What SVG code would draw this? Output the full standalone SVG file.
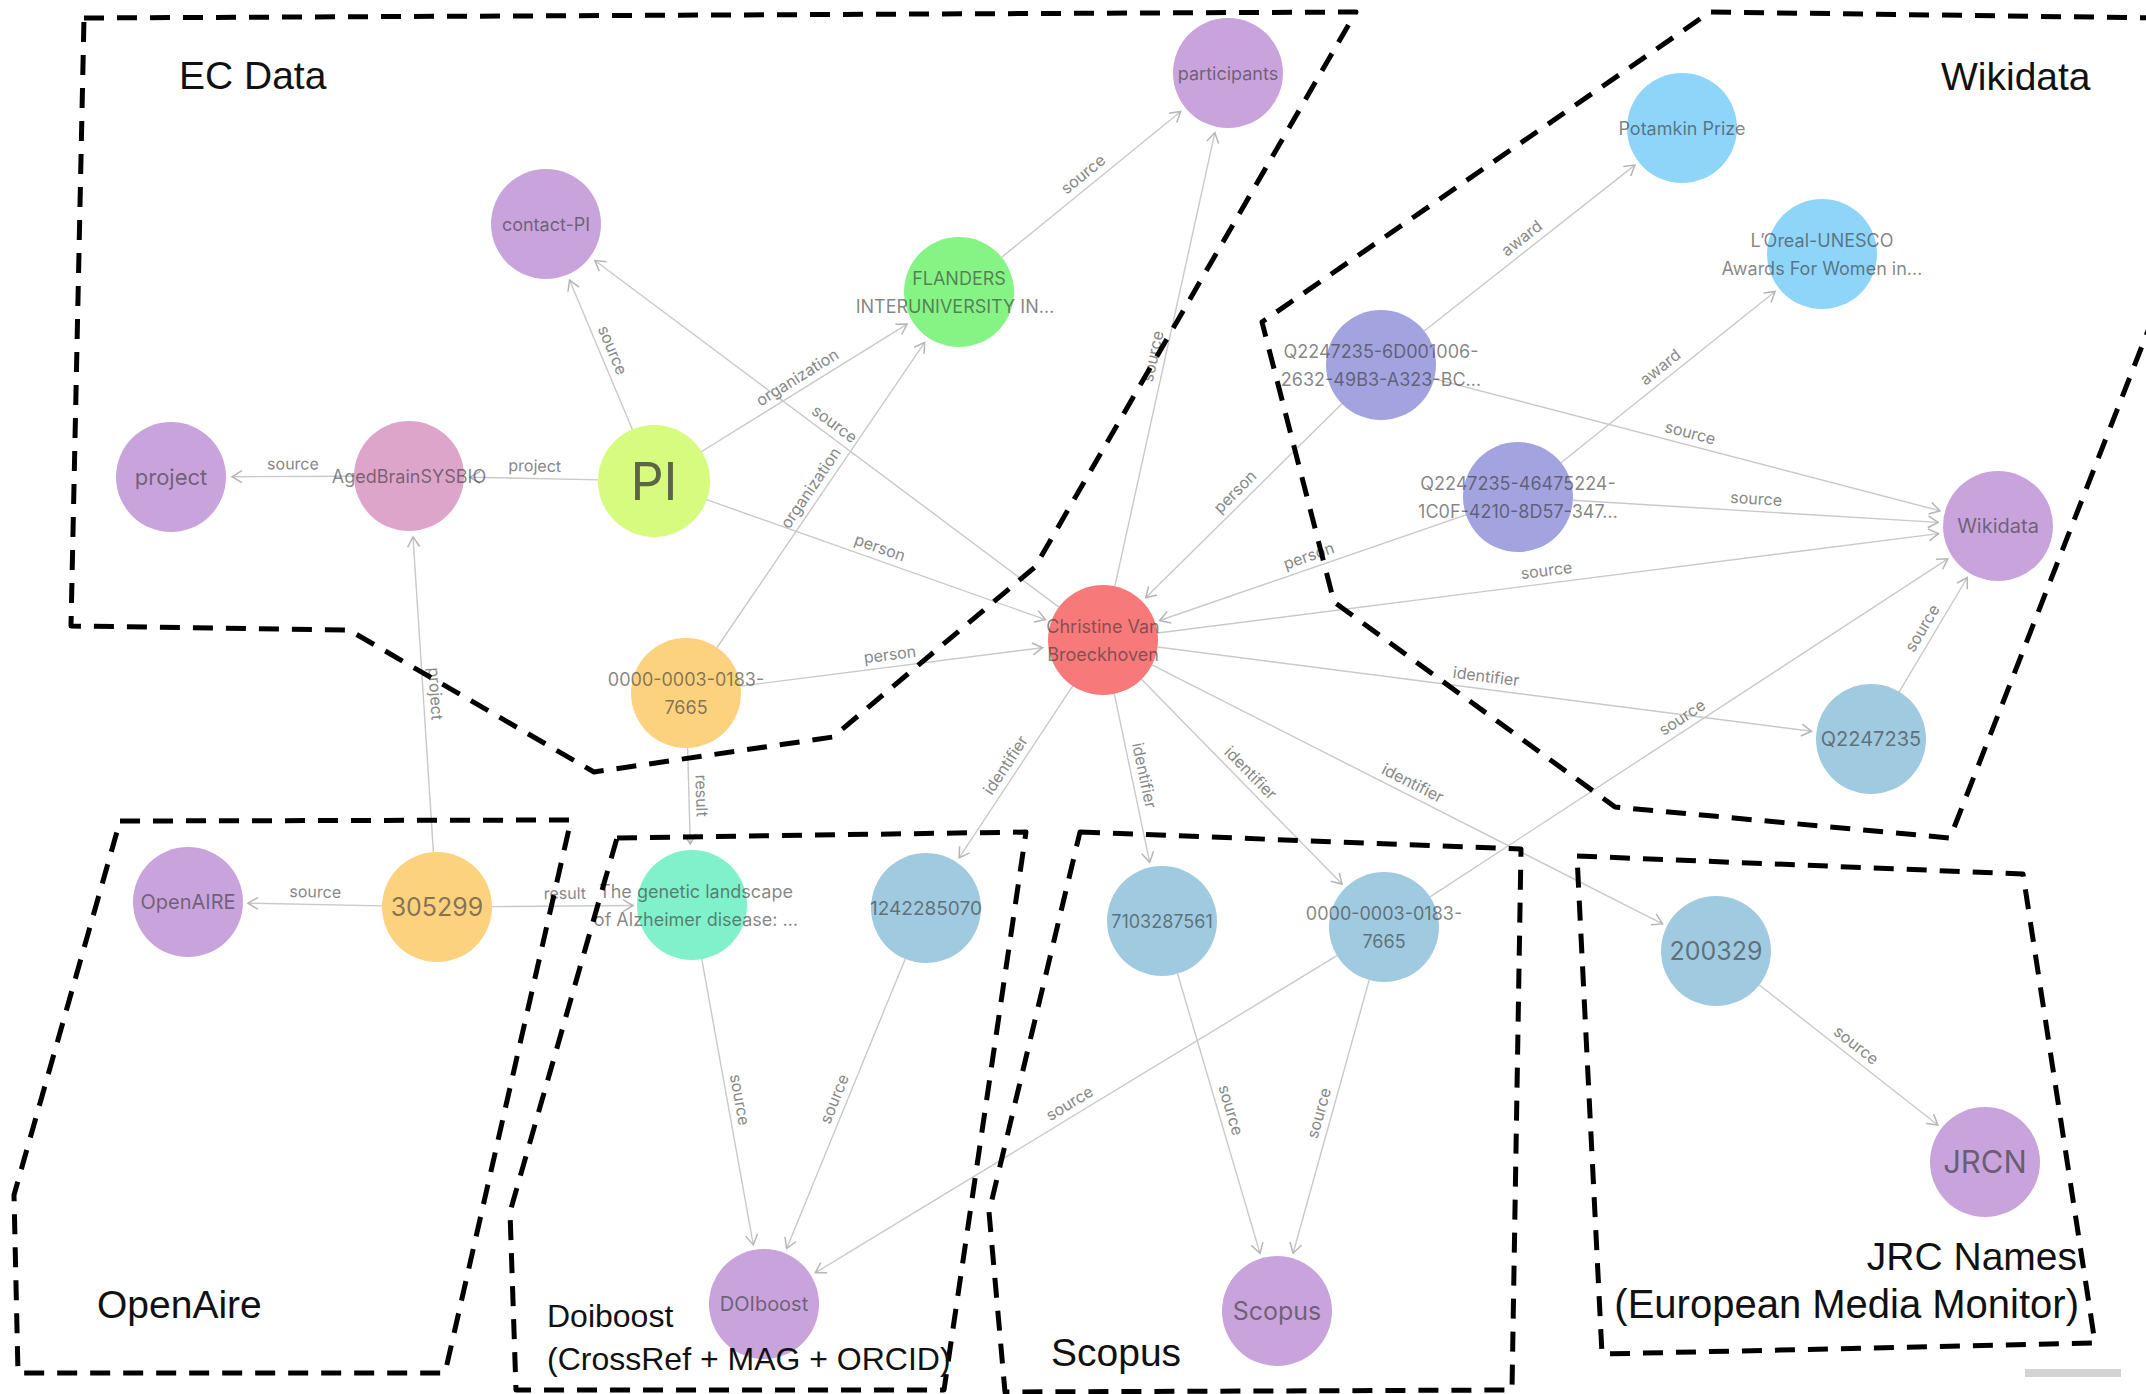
<svg xmlns="http://www.w3.org/2000/svg" width="2146" height="1394" viewBox="0 0 2146 1394">
<defs>
<style>
.e{stroke:#c9c9c9;stroke-width:1.4;fill:none}
.el{font-family:Inter,'Noto Sans',sans-serif;font-size:16px;fill:#888;text-anchor:middle}
.nl{font-family:Inter,'Noto Sans',sans-serif;font-size:18px;fill:#333;fill-opacity:.6;text-anchor:middle}
.region{fill:none;stroke:#000;stroke-width:5;stroke-dasharray:20 13;stroke-linejoin:round}
.gl{font-family:'Liberation Sans',Arial,sans-serif;font-size:39px;fill:#111}
.purple{fill:#C9A3DC}.pink{fill:#DEA5CB}.lime{fill:#D6FB7F}.green{fill:#85F485}.orange{fill:#FDD27F}.red{fill:#F87979}.lav{fill:#A3A3E0}.lblue{fill:#8ED5F9}.steel{fill:#9FCAE0}.teal{fill:#80F1CB}
</style>
<marker id="arr" viewBox="-12 -8 14 16" markerWidth="14" markerHeight="16" refX="0" refY="0" orient="auto" markerUnits="userSpaceOnUse">
<path d="M-10,-6 L0,0 L-10,6" fill="none" stroke="#b5b5b5" stroke-width="1.5"/>
</marker>
</defs>
<rect width="2146" height="1394" fill="#fff"/>

<g id="connectors">
<line class="e" marker-end="url(#arr)" x1="1001.7" y1="257.3" x2="1180.7" y2="111.5"/>
<line class="e" marker-end="url(#arr)" x1="1114.8" y1="586.3" x2="1214.9" y2="132.6"/>
<line class="e" marker-end="url(#arr)" x1="632.7" y1="430.3" x2="569.6" y2="280.2"/>
<line class="e" marker-end="url(#arr)" x1="1058.9" y1="607.1" x2="594.9" y2="260.5"/>
<line class="e" marker-end="url(#arr)" x1="700.8" y1="452" x2="907.1" y2="324.1"/>
<line class="e" marker-end="url(#arr)" x1="717" y1="647.5" x2="924.7" y2="342.4"/>
<line class="e" marker-end="url(#arr)" x1="354" y1="476.2" x2="232" y2="476.7"/>
<line class="e" marker-end="url(#arr)" x1="599" y1="479.9" x2="470" y2="477.2"/>
<line class="e" marker-end="url(#arr)" x1="433.4" y1="852.1" x2="413" y2="536.9"/>
<line class="e" marker-end="url(#arr)" x1="705.8" y1="499.4" x2="1045.5" y2="619.6"/>
<line class="e" marker-end="url(#arr)" x1="740.6" y1="686.1" x2="1042.5" y2="647.7"/>
<line class="e" marker-end="url(#arr)" x1="687.6" y1="748" x2="690.3" y2="844"/>
<line class="e" marker-end="url(#arr)" x1="492" y1="906.6" x2="633" y2="905.5"/>
<line class="e" marker-end="url(#arr)" x1="382" y1="905.9" x2="248" y2="903.2"/>
<line class="e" marker-end="url(#arr)" x1="1341.9" y1="403.7" x2="1145.7" y2="597.8"/>
<line class="e" marker-end="url(#arr)" x1="1466" y1="514.9" x2="1159.7" y2="620.5"/>
<line class="e" marker-end="url(#arr)" x1="1424.2" y1="331" x2="1634.9" y2="165.1"/>
<line class="e" marker-end="url(#arr)" x1="1561" y1="462.7" x2="1775.1" y2="291.5"/>
<line class="e" marker-end="url(#arr)" x1="1434.2" y1="378.9" x2="1939.9" y2="510.8"/>
<line class="e" marker-end="url(#arr)" x1="1572.9" y1="500.3" x2="1938.1" y2="522.4"/>
<line class="e" marker-end="url(#arr)" x1="1157.6" y1="633" x2="1938.5" y2="533.6"/>
<line class="e" marker-end="url(#arr)" x1="1899.2" y1="691.8" x2="1967.3" y2="577.5"/>
<line class="e" marker-end="url(#arr)" x1="1157.5" y1="647" x2="1811.5" y2="731.3"/>
<line class="e" marker-end="url(#arr)" x1="1430" y1="896.9" x2="1947.8" y2="558.8"/>
<line class="e" marker-end="url(#arr)" x1="1072.7" y1="685.9" x2="959.1" y2="857.9"/>
<line class="e" marker-end="url(#arr)" x1="1114.3" y1="693.8" x2="1149.7" y2="862.3"/>
<line class="e" marker-end="url(#arr)" x1="1141.5" y1="679.3" x2="1342" y2="884.1"/>
<line class="e" marker-end="url(#arr)" x1="1152" y1="664.9" x2="1662.5" y2="923.9"/>
<line class="e" marker-end="url(#arr)" x1="701.8" y1="959.1" x2="753.3" y2="1244.9"/>
<line class="e" marker-end="url(#arr)" x1="905.2" y1="958.9" x2="786.7" y2="1248.5"/>
<line class="e" marker-end="url(#arr)" x1="1337" y1="955.6" x2="815.3" y2="1272.8"/>
<line class="e" marker-end="url(#arr)" x1="1177.6" y1="973.8" x2="1260" y2="1253.4"/>
<line class="e" marker-end="url(#arr)" x1="1369.2" y1="980" x2="1293.1" y2="1253.2"/>
<line class="e" marker-end="url(#arr)" x1="1759.3" y1="985" x2="1937.8" y2="1125"/>

<text class="el" transform="translate(1091,184) rotate(-39.2)" y="-7">source</text>
<text class="el" transform="translate(1165,359) rotate(-77.6)" y="-7">source</text>
<text class="el" transform="translate(601,355) rotate(67.2)" y="-7">source</text>
<text class="el" transform="translate(827,434) rotate(36.75)" y="-7">source</text>
<text class="el" transform="translate(804,388) rotate(-31.8)" y="-7">organization</text>
<text class="el" transform="translate(821,495) rotate(-55.75)" y="-7">organization</text>
<text class="el" transform="translate(293,476.5) rotate(-0.24)" y="-7">source</text>
<text class="el" transform="translate(534.5,478.5) rotate(1.17)" y="-7">project</text>
<text class="el" transform="translate(423,694.5) rotate(86.3)" y="-7">project</text>
<text class="el" transform="translate(875.7,559.5) rotate(19.5)" y="-7">person</text>
<text class="el" transform="translate(891.5,667) rotate(-7.24)" y="-7">person</text>
<text class="el" transform="translate(689,796) rotate(88.4)" y="-7">result</text>
<text class="el" transform="translate(565,906) rotate(-0.45)" y="-7">result</text>
<text class="el" transform="translate(315,904.5) rotate(1.15)" y="-7">source</text>
<text class="el" transform="translate(1243.8,500.7) rotate(-44.7)" y="-7">person</text>
<text class="el" transform="translate(1312.9,567.7) rotate(-19)" y="-7">person</text>
<text class="el" transform="translate(1529.5,248) rotate(-38.2)" y="-7">award</text>
<text class="el" transform="translate(1668,377) rotate(-38.6)" y="-7">award</text>
<text class="el" transform="translate(1687,445) rotate(14.6)" y="-7">source</text>
<text class="el" transform="translate(1755.5,511.4) rotate(3.46)" y="-7">source</text>
<text class="el" transform="translate(1548,583) rotate(-7.26)" y="-7">source</text>
<text class="el" transform="translate(1933,634.6) rotate(-59.2)" y="-7">source</text>
<text class="el" transform="translate(1484.5,689) rotate(7.35)" y="-7">identifier</text>
<text class="el" transform="translate(1689,728) rotate(-33.15)" y="-7">source</text>
<text class="el" transform="translate(1016,772) rotate(-56.6)" y="-7">identifier</text>
<text class="el" transform="translate(1132,778) rotate(78.1)" y="-7">identifier</text>
<text class="el" transform="translate(1241.7,781.7) rotate(45.6)" y="-7">identifier</text>
<text class="el" transform="translate(1407,794.4) rotate(26.9)" y="-7">identifier</text>
<text class="el" transform="translate(727.5,1102) rotate(79.8)" y="-7">source</text>
<text class="el" transform="translate(846,1103.7) rotate(-67.8)" y="-7">source</text>
<text class="el" transform="translate(1076,1114) rotate(-31.3)" y="-7">source</text>
<text class="el" transform="translate(1218.8,1113.6) rotate(73.6)" y="-7">source</text>
<text class="el" transform="translate(1331,1116.6) rotate(-74.4)" y="-7">source</text>
<text class="el" transform="translate(1848.5,1055) rotate(38.1)" y="-7">source</text>
</g>

<g id="node-participants"><circle class="purple" cx="1228" cy="73" r="55"/><text class="nl" x="1228" y="79.5">participants</text></g>
<g id="node-contact-pi"><circle class="purple" cx="546" cy="224" r="55"/><text class="nl" x="546" y="230.5">contact-PI</text></g>
<g id="node-flanders"><circle class="green" cx="959" cy="292" r="55"/><text class="nl" x="959" y="284.5">FLANDERS</text><text class="nl" x="955" y="312.5">INTERUNIVERSITY IN…</text></g>
<g id="node-project"><circle class="purple" cx="171" cy="477" r="55"/><text class="nl" style="font-size:22px" x="171" y="485">project</text></g>
<g id="node-agedbrain"><circle class="pink" cx="409" cy="476" r="55"/><text class="nl" x="409" y="482.5">AgedBrainSYSBIO</text></g>
<g id="node-pi"><circle class="lime" cx="654" cy="481" r="56"/><text class="nl" style="font-size:52px;fill-opacity:.75" x="654" y="500">PI</text></g>
<g id="node-orcid-ec"><circle class="orange" cx="686" cy="693" r="55"/><text class="nl" x="686" y="685.5">0000-0003-0183-</text><text class="nl" x="686" y="713.5">7665</text></g>
<g id="node-christine"><circle class="red" cx="1103" cy="640" r="55"/><text class="nl" x="1103" y="632.5">Christine Van</text><text class="nl" x="1103" y="660.5">Broeckhoven</text></g>
<g id="node-q6d"><circle class="lav" cx="1381" cy="365" r="55"/><text class="nl" x="1381" y="357.5">Q2247235-6D001006-</text><text class="nl" x="1381" y="385.5">2632-49B3-A323-BC…</text></g>
<g id="node-potamkin"><circle class="lblue" cx="1682" cy="128" r="55"/><text class="nl" x="1682" y="134.5">Potamkin Prize</text></g>
<g id="node-loreal"><circle class="lblue" cx="1822" cy="254" r="55"/><text class="nl" x="1822" y="246.5">L’Oreal-UNESCO</text><text class="nl" x="1822" y="274.5">Awards For Women in…</text></g>
<g id="node-q46"><circle class="lav" cx="1518" cy="497" r="55"/><text class="nl" x="1518" y="489.5">Q2247235-46475224-</text><text class="nl" x="1518" y="517.5">1C0F-4210-8D57-347…</text></g>
<g id="node-wikidata"><circle class="purple" cx="1998" cy="526" r="55"/><text class="nl" style="font-size:20px" x="1998" y="533">Wikidata</text></g>
<g id="node-q2247235"><circle class="steel" cx="1871" cy="739" r="55"/><text class="nl" style="font-size:20px" x="1871" y="746">Q2247235</text></g>
<g id="node-openaire"><circle class="purple" cx="188" cy="902" r="55"/><text class="nl" style="font-size:20px" x="188" y="909">OpenAIRE</text></g>
<g id="node-305299"><circle class="orange" cx="437" cy="907" r="55"/><text class="nl" style="font-size:25px" x="437" y="916">305299</text></g>
<g id="node-genetic"><circle class="teal" cx="692" cy="905" r="55"/><text class="nl" x="696" y="897.5">The genetic landscape</text><text class="nl" x="696" y="925.5">of Alzheimer disease: …</text></g>
<g id="node-1242285070"><circle class="steel" cx="926" cy="908" r="55"/><text class="nl" style="font-size:19px" x="926" y="915">1242285070</text></g>
<g id="node-7103287561"><circle class="steel" cx="1162" cy="921" r="55"/><text class="nl" x="1162" y="927.5">7103287561</text></g>
<g id="node-orcid-scopus"><circle class="steel" cx="1384" cy="927" r="55"/><text class="nl" x="1384" y="919.5">0000-0003-0183-</text><text class="nl" x="1384" y="947.5">7665</text></g>
<g id="node-doiboost"><circle class="purple" cx="764" cy="1304" r="55"/><text class="nl" style="font-size:20px" x="764" y="1311">DOIboost</text></g>
<g id="node-scopus"><circle class="purple" cx="1277" cy="1311" r="55"/><text class="nl" style="font-size:25px" x="1277" y="1320">Scopus</text></g>
<g id="node-200329"><circle class="steel" cx="1716" cy="951" r="55"/><text class="nl" style="font-size:25px" x="1716" y="960">200329</text></g>
<g id="node-jrcn"><circle class="purple" cx="1985" cy="1162" r="55"/><text class="nl" style="font-size:31px;fill-opacity:.65" x="1985" y="1173">JRCN</text></g>

<g id="regions">
<polygon class="region" points="84,18 1356,12 1035,567 833,737 594,772 349,630 71,626"/>
<polyline class="region" points="2160,18 1710,12 1262,322 1334,602 1386,640 1615,807 1950,838 2160,300"/>
<polygon class="region" points="120,821 571,820 445,1373 18,1373 14,1195"/>
<polygon class="region" points="617,838 1026,832 944,1390 516,1390 510,1212"/>
<polygon class="region" points="1080,832 1521,849 1512,1390 1005,1392 989,1212"/>
<polygon class="region" points="1577,856 2023,874 2095,1343 1602,1354"/>
<text class="gl" x="179" y="89">EC Data</text>
<text class="gl" x="1941" y="90">Wikidata</text>
<text class="gl" x="97" y="1318">OpenAire</text>
<text class="gl" style="font-size:32px" x="547" y="1327">Doiboost</text>
<text class="gl" style="font-size:32px" x="547" y="1370">(CrossRef + MAG + ORCID)</text>
<text class="gl" x="1051" y="1366">Scopus</text>
<text class="gl" text-anchor="end" x="2077" y="1270">JRC Names</text>
<text class="gl" style="font-size:40px" text-anchor="end" x="2079" y="1318">(European Media Monitor)</text>
</g>
<rect x="2025" y="1369" width="96" height="8" fill="#d3d3d3"/>
</svg>
